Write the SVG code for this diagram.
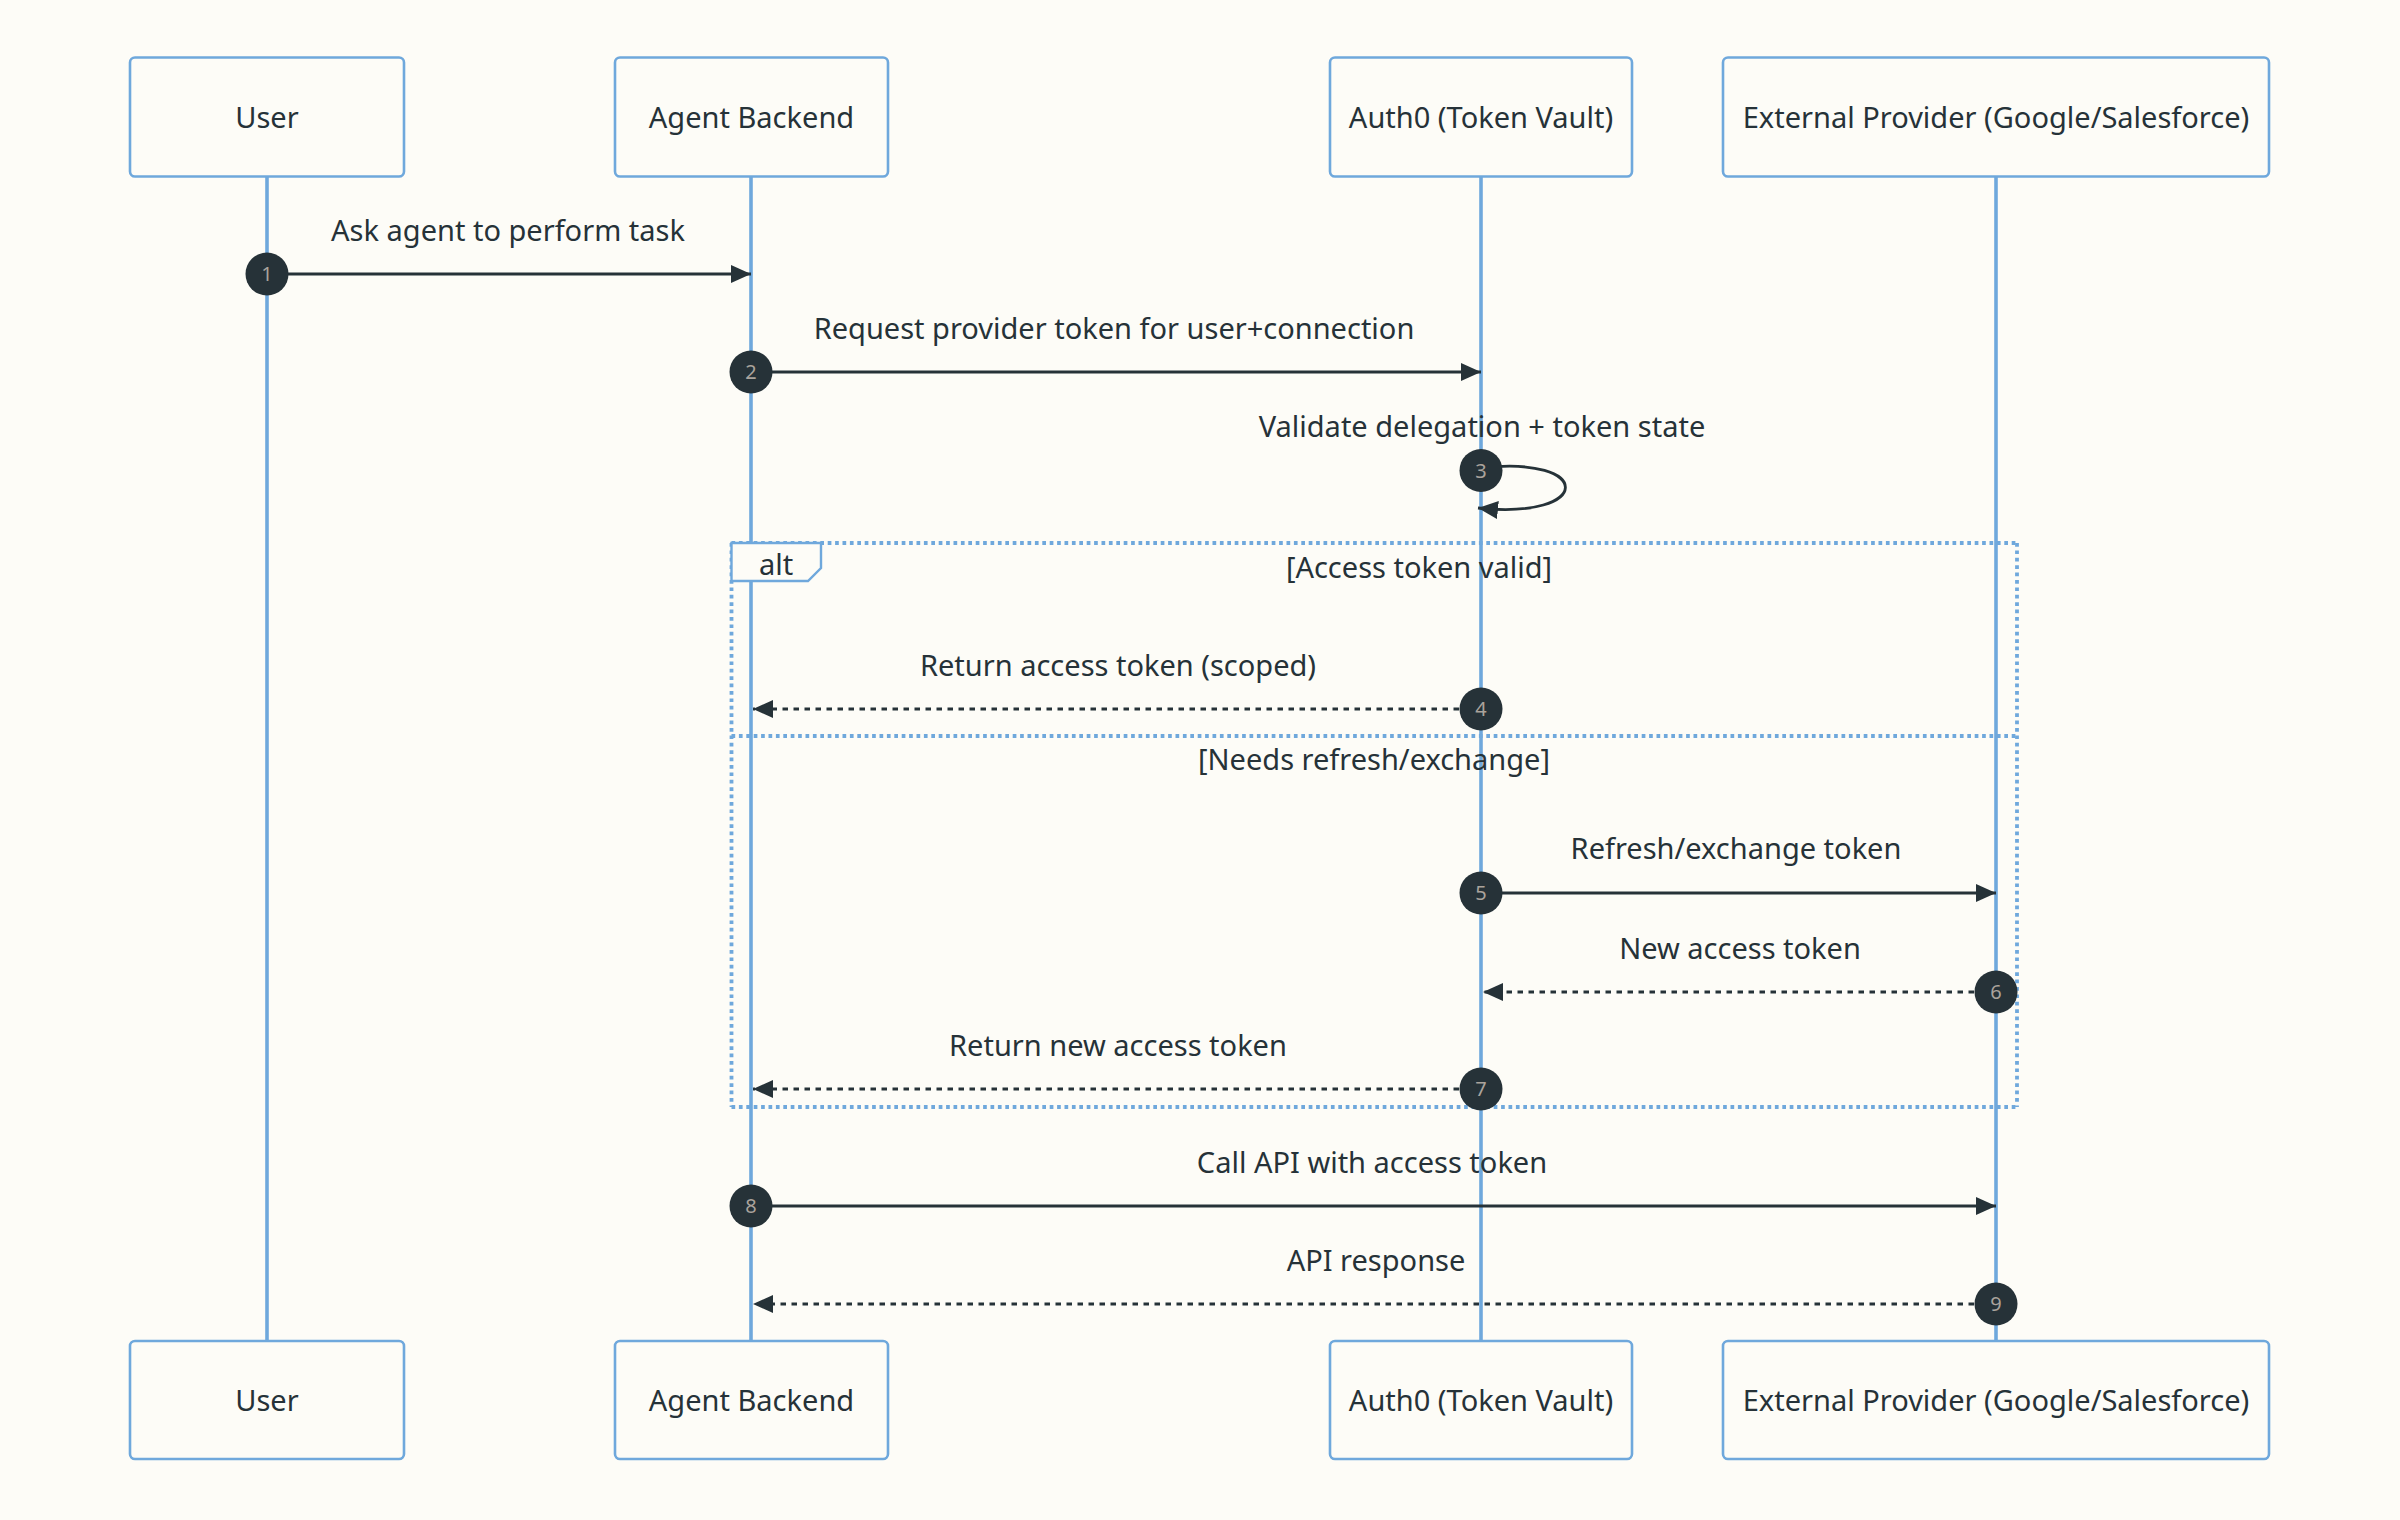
<svg xmlns="http://www.w3.org/2000/svg" width="2400" height="1520" viewBox="0 0 2400 1520">
<defs>
<style>
text{font-family:"Noto Sans","Open Sans","DejaVu Sans",sans-serif;fill:#263238;font-size:29px;text-anchor:middle}
.actor rect{fill:#fdfcf7;stroke:#6fa8dc;stroke-width:2.6}
.life{stroke:#6fa8dc;stroke-width:3.6}
.frame{stroke:#6fa8dc;stroke-width:3.8;stroke-dasharray:3.7 3.7;fill:none}
.msg{stroke:#263238;stroke-width:2.8;fill:none;marker-end:url(#arrow)}
.dash{stroke-dasharray:5.5 5.5}
.num circle{fill:#263238}
.num text{fill:#aaa39c;font-size:20px}
</style>
<marker id="arrow" markerUnits="userSpaceOnUse" markerWidth="22" markerHeight="20" refX="20" refY="9" orient="auto" viewBox="0 0 22 20">
<path d="M0,0 L20,9 L0,18 z" fill="#263238"/>
</marker>
</defs>
<rect width="2400" height="1520" fill="#fdfcf7"/>

<g id="alt-frame">
<line class="frame" x1="731.5" y1="543" x2="2017" y2="543"/>
<line class="frame" x1="731.5" y1="543" x2="731.5" y2="1107"/>
<line class="frame" x1="2017" y1="543" x2="2017" y2="1107"/>
<line class="frame" x1="731.5" y1="1107" x2="2017" y2="1107"/>
<line class="frame" x1="731.5" y1="736" x2="2017" y2="736"/>
</g>

<g id="lifelines">
<line class="life" x1="267" y1="177" x2="267" y2="1341"/>
<line class="life" x1="751" y1="177" x2="751" y2="1341"/>
<line class="life" x1="1481" y1="177" x2="1481" y2="1341"/>
<line class="life" x1="1996" y1="177" x2="1996" y2="1341"/>
</g>

<g id="alt-label">
<polygon points="731.5,543 821,543 821,568 808,581 731.5,581" fill="#fdfcf7" stroke="#6fa8dc" stroke-width="2.4"/>
<text x="776" y="575">alt</text>
<text x="1419" y="578">[Access token valid]</text>
<text x="1374" y="770">[Needs refresh/exchange]</text>
</g>

<g id="actor-user-top" class="actor"><rect x="130" y="57.5" width="274" height="119" rx="5"/><text x="267" y="128">User</text></g>
<g id="actor-agent-top" class="actor"><rect x="615" y="57.5" width="273" height="119" rx="5"/><text x="751.5" y="128">Agent Backend</text></g>
<g id="actor-auth0-top" class="actor"><rect x="1330" y="57.5" width="302" height="119" rx="5"/><text x="1481" y="128">Auth0 (Token Vault)</text></g>
<g id="actor-ext-top" class="actor"><rect x="1723" y="57.5" width="546" height="119" rx="5"/><text x="1996" y="128">External Provider (Google/Salesforce)</text></g>

<g id="actor-user-bottom" class="actor"><rect x="130" y="1341" width="274" height="118" rx="5"/><text x="267" y="1411">User</text></g>
<g id="actor-agent-bottom" class="actor"><rect x="615" y="1341" width="273" height="118" rx="5"/><text x="751.5" y="1411">Agent Backend</text></g>
<g id="actor-auth0-bottom" class="actor"><rect x="1330" y="1341" width="302" height="118" rx="5"/><text x="1481" y="1411">Auth0 (Token Vault)</text></g>
<g id="actor-ext-bottom" class="actor"><rect x="1723" y="1341" width="546" height="118" rx="5"/><text x="1996" y="1411">External Provider (Google/Salesforce)</text></g>

<g id="connectors">
<line class="msg" x1="267" y1="274" x2="751" y2="274"/>
<line class="msg" x1="751" y1="372" x2="1481" y2="372"/>
<path class="msg" d="M1481,468 C1594,455 1594,520 1478,508"/>
<line class="msg dash" x1="1481" y1="709" x2="753" y2="709"/>
<line class="msg" x1="1481" y1="893" x2="1996" y2="893"/>
<line class="msg dash" x1="1996" y1="992" x2="1483" y2="992"/>
<line class="msg dash" x1="1481" y1="1089" x2="753" y2="1089"/>
<line class="msg" x1="751" y1="1206" x2="1996" y2="1206"/>
<line class="msg dash" x1="1996" y1="1304" x2="753" y2="1304"/>
</g>

<g id="message-labels">
<text x="508" y="241">Ask agent to perform task</text>
<text x="1114" y="339">Request provider token for user+connection</text>
<text x="1482" y="437">Validate delegation + token state</text>
<text x="1118" y="676">Return access token (scoped)</text>
<text x="1736" y="859">Refresh/exchange token</text>
<text x="1740" y="959">New access token</text>
<text x="1118" y="1056">Return new access token</text>
<text x="1372" y="1173">Call API with access token</text>
<text x="1376" y="1271">API response</text>
</g>

<g id="sequence-numbers">
<g class="num"><circle cx="267" cy="274" r="21.5"/><text x="267" y="281">1</text></g>
<g class="num"><circle cx="751" cy="372" r="21.5"/><text x="751" y="379">2</text></g>
<g class="num"><circle cx="1481" cy="470.5" r="21.5"/><text x="1481" y="477.5">3</text></g>
<g class="num"><circle cx="1481" cy="709" r="21.5"/><text x="1481" y="716">4</text></g>
<g class="num"><circle cx="1481" cy="893" r="21.5"/><text x="1481" y="900">5</text></g>
<g class="num"><circle cx="1996" cy="992" r="21.5"/><text x="1996" y="999">6</text></g>
<g class="num"><circle cx="1481" cy="1089" r="21.5"/><text x="1481" y="1096">7</text></g>
<g class="num"><circle cx="751" cy="1206" r="21.5"/><text x="751" y="1213">8</text></g>
<g class="num"><circle cx="1996" cy="1304" r="21.5"/><text x="1996" y="1311">9</text></g>
</g>
</svg>
